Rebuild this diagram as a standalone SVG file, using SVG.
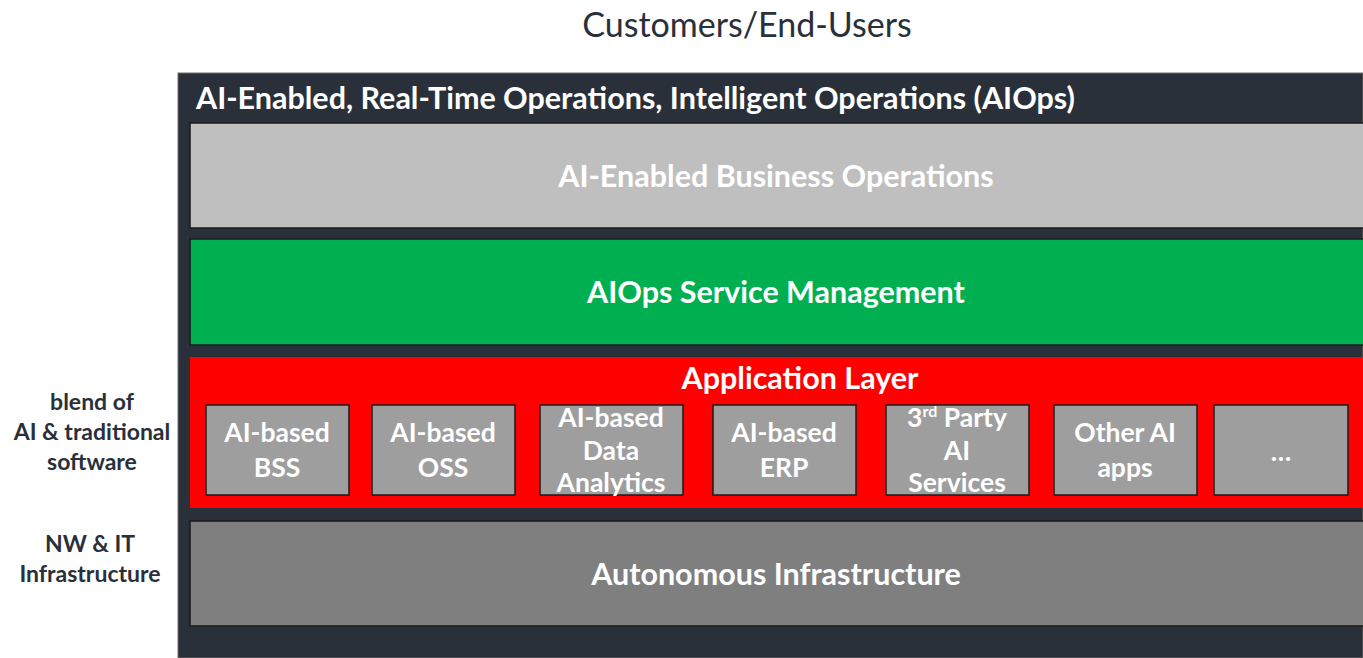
<svg xmlns="http://www.w3.org/2000/svg" width="1363" height="658" viewBox="0 0 1363 658">
  <style>
    text { font-family: Lato, "Open Sans", "Liberation Sans", sans-serif; }
    .title { font-size: 34px; fill: #29303A; text-anchor: middle; }
    .side { font-size: 23px; font-weight: bold; fill: #29303A; text-anchor: middle; }
    .head { font-size: 30.5px; font-weight: bold; fill: #FFFFFF; }
    .band { stroke: #1A1A1A; stroke-width: 1.5; }
    .bandText { font-size: 30.5px; font-weight: bold; fill: #FFFFFF; text-anchor: middle; }
    .app { fill: #9E9E9E; stroke: #1A1A1A; stroke-width: 1.5; }
    .appText { font-size: 26.5px; font-weight: bold; fill: #FFFFFF; text-anchor: middle; }
  </style>

  <rect width="1363" height="658" fill="#FFFFFF"/>

  <text class="title" x="747" y="37">Customers/End-Users</text>

  <g id="side-labels">
    <text class="side" x="92" y="410">blend of</text>
    <text class="side" x="92" y="440">AI &amp; traditional</text>
    <text class="side" x="92" y="470">software</text>
    <text class="side" x="90" y="552">NW &amp; IT</text>
    <text class="side" x="90" y="582">Infrastructure</text>
  </g>

  <g id="aiops-frame">
    <rect x="178" y="73" width="1185" height="585" fill="#29303A" stroke="#6E6E6E" stroke-width="1"/>
    <text class="head" x="196" y="109">AI-Enabled, Real-Time Operations, Intelligent Operations (AIOps)</text>
  </g>

  <g id="business-ops">
    <rect class="band" x="190" y="123" width="1180" height="105" fill="#BFBFBF"/>
    <text class="bandText" x="776" y="187" fill="#F2F2F2">AI-Enabled Business Operations</text>
  </g>

  <g id="service-mgmt">
    <rect class="band" x="190" y="239" width="1180" height="106" fill="#00B050"/>
    <text class="bandText" x="776" y="303">AIOps Service Management</text>
  </g>

  <g id="application-layer">
    <rect x="190" y="357" width="1180" height="151" fill="#FF0000"/>
    <text class="bandText" x="800" y="389">Application Layer</text>
  </g>

  <g id="app-bss">
    <rect class="app" x="206" y="405" width="143" height="90"/>
    <text class="appText" x="277" y="442">AI-based</text>
    <text class="appText" x="277" y="477">BSS</text>
  </g>
  <g id="app-oss">
    <rect class="app" x="372" y="405" width="143" height="90"/>
    <text class="appText" x="443" y="442">AI-based</text>
    <text class="appText" x="443" y="477">OSS</text>
  </g>
  <g id="app-analytics">
    <rect class="app" x="540" y="405" width="143" height="90"/>
    <text class="appText" x="611" y="427">AI-based</text>
    <text class="appText" x="611" y="460">Data</text>
    <text class="appText" x="611" y="492">Analytics</text>
  </g>
  <g id="app-erp">
    <rect class="app" x="713" y="405" width="143" height="90"/>
    <text class="appText" x="784" y="442">AI-based</text>
    <text class="appText" x="784" y="477">ERP</text>
  </g>
  <g id="app-third-party">
    <rect class="app" x="886" y="405" width="143" height="90"/>
    <text class="appText" x="957" y="427">3<tspan font-size="16" dy="-10">rd</tspan><tspan dy="10"> Party</tspan></text>
    <text class="appText" x="957" y="460">AI</text>
    <text class="appText" x="957" y="492">Services</text>
  </g>
  <g id="app-other">
    <rect class="app" x="1054" y="405" width="143" height="90"/>
    <text class="appText" x="1125" y="442">Other AI</text>
    <text class="appText" x="1125" y="477">apps</text>
  </g>
  <g id="app-more">
    <rect class="app" x="1214" y="405" width="134" height="90"/>
    <text class="appText" x="1281" y="461">…</text>
  </g>

  <g id="infrastructure">
    <rect class="band" x="190" y="521" width="1180" height="105" fill="#7F7F7F"/>
    <text class="bandText" x="776" y="585">Autonomous Infrastructure</text>
  </g>

  <g id="connectors"></g>
</svg>
